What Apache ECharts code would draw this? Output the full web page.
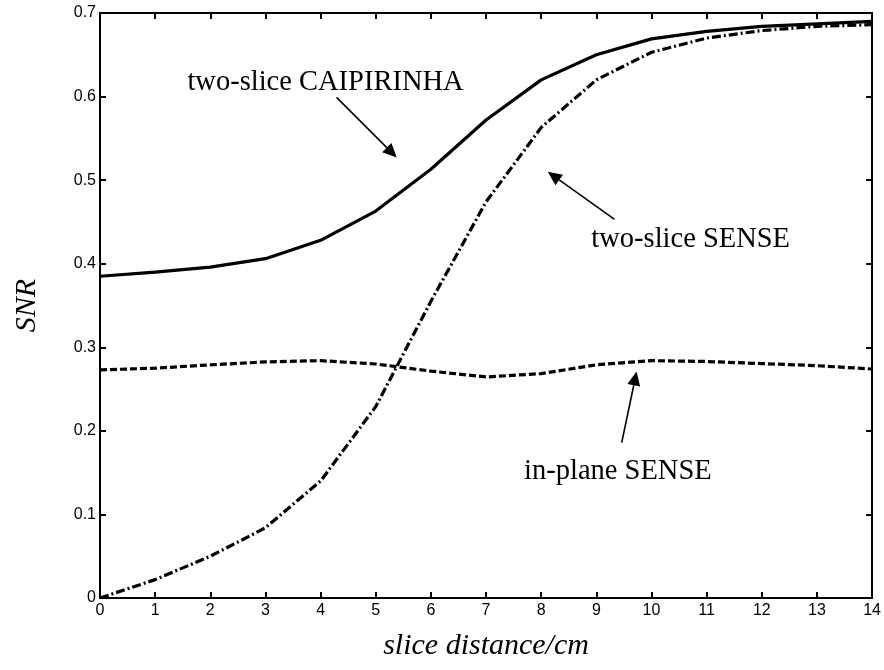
<!DOCTYPE html>
<html>
<head>
<meta charset="utf-8">
<script src="https://cdn.jsdelivr.net/npm/echarts@6/dist/echarts.min.js"></script>
<style>html,body{margin:0;padding:0;background:#fff}#c{width:884px;height:670px}</style>
</head>
<body>
<div id="c"></div>
<script>
const xValues = [0,1,2,3,4,5,6,7,8,9,10,11,12,13,14];
const caipirinha = [0.385,0.390,0.396,0.406,0.428,0.463,0.513,0.572,0.620,0.650,0.669,0.678,0.684,0.687,0.690];
const twoSliceSense = [0.000,0.022,0.050,0.084,0.140,0.229,0.355,0.474,0.563,0.620,0.653,0.670,0.679,0.684,0.686];
const inPlaneSense = [0.273,0.275,0.279,0.2825,0.284,0.280,0.2715,0.2645,0.2685,0.279,0.284,0.283,0.2805,0.278,0.274];
const xTicks = [0,1,2,3,4,5,6,7,8,9,10,11,12,13,14];
const yTicks = [0,0.1,0.2,0.3,0.4,0.5,0.6,0.7];

// annotation texts and arrows (data coordinates)
const annotationTexts = ['two-slice CAIPIRINHA','two-slice SENSE','in-plane SENSE'];
const annotationTextAt = [[4.09,0.617],[10.71,0.429],[9.39,0.151]];
const arrowFrom = [[4.29,0.599],[9.33,0.453],[9.46,0.186]];
const arrowTo = [[5.38,0.527],[8.12,0.510],[9.73,0.271]];

const chart = echarts.init(document.getElementById('c'));
const pair = a => xValues.map((x,i)=>[x,a[i]]);
const tickLabelStyle = {color:'#000', fontFamily:'Liberation Sans', fontSize:16};
const axLine = {show:true, onZero:false, lineStyle:{color:'#000', width:2}};
const axTick = {show:true, inside:true, length:6, lineStyle:{color:'#000', width:2}};

chart.setOption({
  backgroundColor:'#fff',
  animation:false,
  grid:{left:100, right:11, top:13, bottom:72},
  xAxis:[{
    type:'value', min:xTicks[0], max:xTicks[xTicks.length-1], interval:1,
    axisLine:axLine, axisTick:axTick, splitLine:{show:false},
    axisLabel:Object.assign({margin:5}, tickLabelStyle),
    name:'slice distance/cm', nameLocation:'middle', nameGap:33,
    nameTextStyle:{fontFamily:'Liberation Serif', fontStyle:'italic', fontSize:30, color:'#000'}
  },{
    type:'value', position:'top', min:xTicks[0], max:xTicks[xTicks.length-1], interval:1,
    axisLine:axLine, axisTick:axTick, splitLine:{show:false}, axisLabel:{show:false}
  }],
  yAxis:[{
    type:'value', min:yTicks[0], max:yTicks[yTicks.length-1], interval:0.1,
    axisLine:axLine, axisTick:axTick, splitLine:{show:false},
    axisLabel:Object.assign({margin:4}, tickLabelStyle),
    name:'SNR', nameLocation:'middle', nameGap:58, nameRotate:90,
    nameTextStyle:{fontFamily:'Liberation Serif', fontStyle:'italic', fontSize:30, color:'#000'}
  },{
    type:'value', position:'right', min:yTicks[0], max:yTicks[yTicks.length-1], interval:0.1,
    axisLine:axLine, axisTick:axTick, splitLine:{show:false}, axisLabel:{show:false}
  }],
  series:[
    {type:'line', name:'two-slice CAIPIRINHA', data:pair(caipirinha), showSymbol:false,
     lineStyle:{color:'#000', width:3.2, type:'solid'}},
    {type:'line', name:'two-slice SENSE', data:pair(twoSliceSense), showSymbol:false,
     lineStyle:{color:'#000', width:3.2, type:[9,3,2,3]}},
    {type:'line', name:'in-plane SENSE', data:pair(inPlaneSense), showSymbol:false,
     lineStyle:{color:'#000', width:3.2, type:[7,3]}}
  ]
});

const toPx = p => chart.convertToPixel({gridIndex:0}, p);
const graphics = [];
annotationTexts.forEach((t,i)=>{
  const c = toPx(annotationTextAt[i]);
  graphics.push({type:'text', x:c[0], y:c[1], style:{text:t, fill:'#000', font:'28.5px "Liberation Serif"', align:'center', verticalAlign:'middle'}});
  const a = toPx(arrowFrom[i]), b = toPx(arrowTo[i]);
  const dx=b[0]-a[0], dy=b[1]-a[1], L=Math.hypot(dx,dy), ux=dx/L, uy=dy/L;
  const hl=14, hw=6.5;
  const bx=b[0]-ux*hl, by=b[1]-uy*hl;
  graphics.push({type:'line', shape:{x1:a[0],y1:a[1],x2:bx,y2:by}, style:{stroke:'#000', lineWidth:1.6}});
  graphics.push({type:'polygon', shape:{points:[[b[0],b[1]],[bx-uy*hw,by+ux*hw],[bx+uy*hw,by-ux*hw]]}, style:{fill:'#000'}});
});
chart.setOption({graphic:graphics});
</script>
</body>
</html>
